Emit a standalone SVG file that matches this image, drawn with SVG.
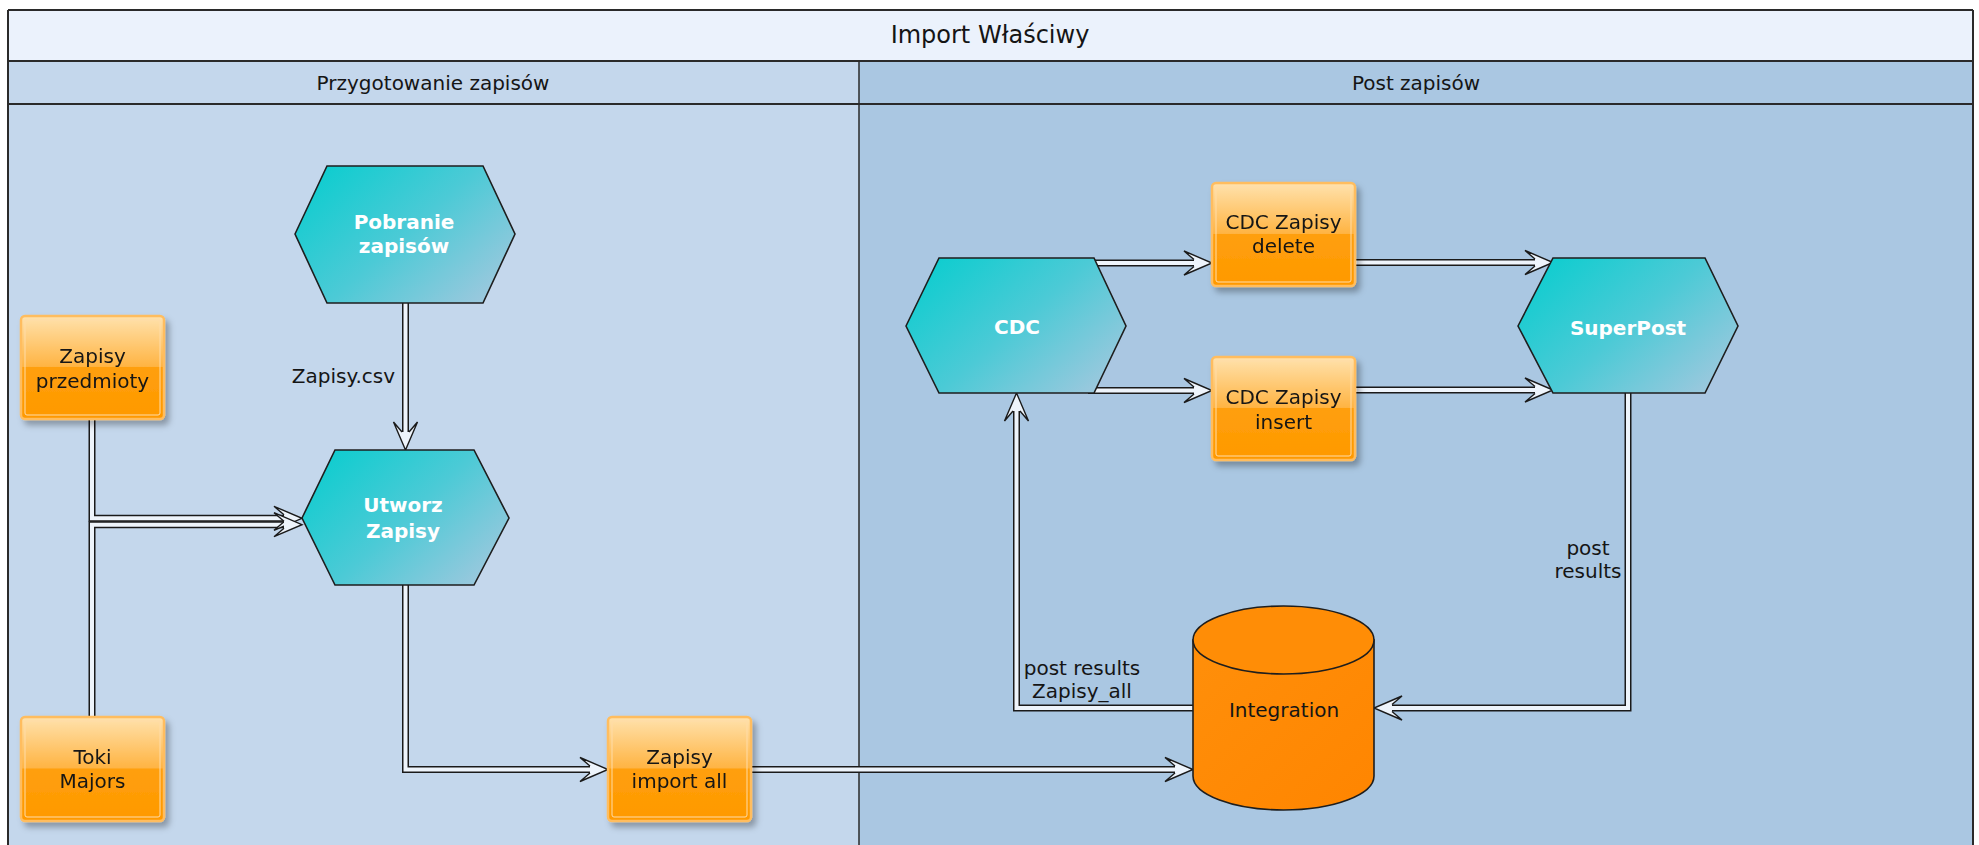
<svg xmlns="http://www.w3.org/2000/svg" xmlns:xlink="http://www.w3.org/1999/xlink" width="1979" height="845" viewBox="0 0 1979 845">
<defs>
<style>
.lbl{font-family:"DejaVu Sans","Noto Sans",sans-serif;font-size:20px;fill:#151515;text-anchor:middle}
.hl{font-family:"DejaVu Sans","Noto Sans",sans-serif;font-size:20px;font-weight:bold;fill:#ffffff;text-anchor:middle}
.title{font-family:"DejaVu Sans","Noto Sans",sans-serif;font-size:24px;fill:#151515;text-anchor:middle}
.eo{fill:none;stroke:#1a1a1a;stroke-width:7;stroke-linejoin:miter}
.ei{fill:none;stroke:#eef4fb;stroke-width:4;stroke-linejoin:miter}
.hex{fill:url(#hexg);stroke:#1e1e1e;stroke-width:1.6}
.box{fill:url(#boxg);stroke:#ffbd5e;stroke-width:2.5}
.boxin{fill:none;stroke:#ffdca8;stroke-width:1}
.frame{stroke:#2a2a2a;stroke-width:2}
</style>
<linearGradient id="hexg" x1="0" y1="0.15" x2="1" y2="0.85">
<stop offset="0" stop-color="#0ccdcf"/>
<stop offset="0.5" stop-color="#4ccad6"/>
<stop offset="1" stop-color="#a0c8de"/>
</linearGradient>
<linearGradient id="boxg" x1="0" y1="0" x2="0" y2="1">
<stop offset="0" stop-color="#ffe2ad"/>
<stop offset="0.49" stop-color="#ffb443"/>
<stop offset="0.5" stop-color="#ff9f0c"/>
<stop offset="1" stop-color="#ff9900"/>
</linearGradient>
<linearGradient id="cylg" x1="0" y1="0" x2="1" y2="1">
<stop offset="0" stop-color="#ff8f0a"/>
<stop offset="1" stop-color="#ff8500"/>
</linearGradient>
<filter id="sh" x="-20%" y="-20%" width="150%" height="150%">
<feDropShadow dx="4" dy="5" stdDeviation="3" flood-color="#000" flood-opacity="0.3"/>
</filter>
<path id="ah" d="M-18,-3.5 L-28,-12 L0,0 L-28,12 L-18,3.5" fill="#eef4fb" stroke="#1a1a1a" stroke-width="1.4" stroke-linejoin="miter"/>
</defs>

<g id="pool">
<rect x="8" y="10" width="1965" height="51" fill="#ebf2fc"/>
<rect x="8" y="61" width="851" height="800" fill="#c4d7ec"/>
<rect x="859" y="61" width="1114" height="800" fill="#aac7e2"/>
<line class="frame" x1="8" y1="10" x2="1973" y2="10"/>
<line class="frame" x1="8" y1="10" x2="8" y2="850"/>
<line class="frame" x1="1973" y1="10" x2="1973" y2="850"/>
<line class="frame" x1="8" y1="61" x2="1973" y2="61"/>
<line class="frame" x1="8" y1="104" x2="1973" y2="104"/>
<line x1="859" y1="61" x2="859" y2="850" stroke="#2a2a2a" stroke-width="1.5"/>
<text class="title" x="990" y="43">Import Właściwy</text>
<text class="lbl" x="433" y="90">Przygotowanie zapisów</text>
<text class="lbl" x="1416" y="90">Post zapisów</text>
</g>

<g id="connectors">
<path class="eo" d="M405.5,300 V433"/><path class="ei" d="M405.5,300 V433"/>
<use xlink:href="#ah" transform="translate(405.5,450) rotate(90)"/>
<path class="eo" d="M92,415 V518.3 H285"/><path class="ei" d="M92,415 V518.3 H285"/>
<path class="eo" d="M92,721 V524.7 H285"/><path class="ei" d="M92,721 V524.7 H285"/>
<use xlink:href="#ah" transform="translate(302,518.3)"/>
<use xlink:href="#ah" transform="translate(302,524.7)"/>
<path class="eo" d="M405.5,580 V769.5 H591"/><path class="ei" d="M405.5,580 V769.5 H591"/>
<use xlink:href="#ah" transform="translate(608,769.5)"/>
<path class="eo" d="M747,769.5 H1176"/><path class="ei" d="M747,769.5 H1176"/>
<use xlink:href="#ah" transform="translate(1193,769.5)"/>
<path class="eo" d="M1200,708 H1016.5 V410"/><path class="ei" d="M1200,708 H1016.5 V410"/>
<use xlink:href="#ah" transform="translate(1016.5,393) rotate(-90)"/>
<path class="eo" d="M1628,388 V708 H1391"/><path class="ei" d="M1628,388 V708 H1391"/>
<use xlink:href="#ah" transform="translate(1374,708) rotate(180)"/>
<path class="eo" d="M1088,263 H1195"/><path class="ei" d="M1088,263 H1195"/>
<use xlink:href="#ah" transform="translate(1212,263)"/>
<path class="eo" d="M1088,390.5 H1195"/><path class="ei" d="M1088,390.5 H1195"/>
<use xlink:href="#ah" transform="translate(1212,390.5)"/>
<path class="eo" d="M1351,262.5 H1536"/><path class="ei" d="M1351,262.5 H1536"/>
<use xlink:href="#ah" transform="translate(1553,262.5)"/>
<path class="eo" d="M1351,390 H1536"/><path class="ei" d="M1351,390 H1536"/>
<use xlink:href="#ah" transform="translate(1553,390)"/>
<text class="lbl" x="395" y="383" style="text-anchor:end">Zapisy.csv</text>
<text class="lbl" x="1082" y="675">post results</text>
<text class="lbl" x="1082" y="698">Zapisy_all</text>
<text class="lbl" x="1588" y="555">post</text>
<text class="lbl" x="1588" y="578">results</text>
</g>

<g id="pobranie">
<polygon class="hex" points="295,234 327,166 483,166 515,234 483,303 327,303"/>
<text class="hl" x="404" y="229">Pobranie</text>
<text class="hl" x="404" y="253">zapisów</text>
</g>

<g id="utworz">
<polygon class="hex" points="302,518 335,450 474,450 509,518 474,585 335,585"/>
<text class="hl" x="403" y="512">Utworz</text>
<text class="hl" x="403" y="538">Zapisy</text>
</g>

<g id="zapisy-przedmioty" filter="url(#sh)">
<rect class="box" x="21" y="316" width="143" height="103" rx="4"/>
<rect class="boxin" x="25" y="320" width="135" height="95" rx="2"/>
<text class="lbl" x="92.5" y="363">Zapisy</text>
<text class="lbl" x="92.5" y="388">przedmioty</text>
</g>

<g id="toki-majors" filter="url(#sh)">
<rect class="box" x="21" y="717" width="143" height="104" rx="4"/>
<rect class="boxin" x="25" y="721" width="135" height="96" rx="2"/>
<text class="lbl" x="92.5" y="764">Toki</text>
<text class="lbl" x="92.5" y="788">Majors</text>
</g>

<g id="zapisy-import-all" filter="url(#sh)">
<rect class="box" x="608" y="717" width="143" height="104" rx="4"/>
<rect class="boxin" x="612" y="721" width="135" height="96" rx="2"/>
<text class="lbl" x="679.5" y="764">Zapisy</text>
<text class="lbl" x="679.5" y="788">import all</text>
</g>

<g id="cdc">
<polygon class="hex" points="906,326 939,258 1094,258 1126,326 1094,393 939,393"/>
<text class="hl" x="1017" y="334">CDC</text>
</g>

<g id="cdc-delete" filter="url(#sh)">
<rect class="box" x="1212" y="183" width="143" height="103" rx="4"/>
<rect class="boxin" x="1216" y="187" width="135" height="95" rx="2"/>
<text class="lbl" x="1283.5" y="229">CDC Zapisy</text>
<text class="lbl" x="1283.5" y="253">delete</text>
</g>

<g id="cdc-insert" filter="url(#sh)">
<rect class="box" x="1212" y="357" width="143" height="103" rx="4"/>
<rect class="boxin" x="1216" y="361" width="135" height="95" rx="2"/>
<text class="lbl" x="1283.5" y="404">CDC Zapisy</text>
<text class="lbl" x="1283.5" y="429">insert</text>
</g>

<g id="superpost">
<polygon class="hex" points="1518,326 1553,258 1705,258 1738,326 1705,393 1553,393"/>
<text class="hl" x="1628" y="335">SuperPost</text>
</g>

<g id="integration">
<path d="M1193,640 V776 A90.5,34 0 0 0 1374,776 V640 Z" fill="url(#cylg)" stroke="#1e1e1e" stroke-width="1.6"/>
<ellipse cx="1283.5" cy="640" rx="90.5" ry="34" fill="#ff8d06" stroke="#1e1e1e" stroke-width="1.6"/>
<text class="lbl" x="1284" y="717">Integration</text>
</g>
</svg>
